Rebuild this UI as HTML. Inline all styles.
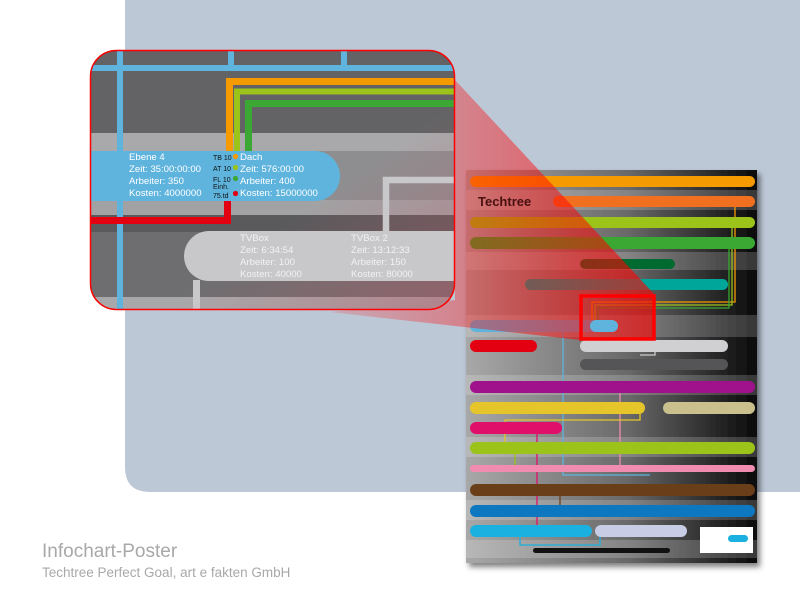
<!DOCTYPE html>
<html><head><meta charset="utf-8"><style>
html,body{margin:0;padding:0;background:#fff;}
svg{display:block;font-family:"Liberation Sans",sans-serif;}
</style></head><body>
<svg width="800" height="600" viewBox="0 0 800 600" xmlns="http://www.w3.org/2000/svg">
<defs>
<linearGradient id="pg" x1="0" x2="1" y1="0" y2="0">
<stop offset="0" stop-color="#a8a8a8"/><stop offset="0.55" stop-color="#6a6a6a"/><stop offset="1" stop-color="#0a0a0a"/>
</linearGradient>
<linearGradient id="ig" x1="0" x2="1" y1="0" y2="1">
<stop offset="0" stop-color="#707072" stop-opacity="0"/><stop offset="0.6" stop-color="#c06070" stop-opacity="0"/><stop offset="1" stop-color="#c05060" stop-opacity="0.45"/>
</linearGradient>
<linearGradient id="rg" x1="1" x2="0" y1="0" y2="0">
<stop offset="0" stop-color="#ff0000" stop-opacity="0.85"/><stop offset="1" stop-color="#ff0000" stop-opacity="0.2"/>
</linearGradient>
<clipPath id="ic"><rect x="90" y="50" width="365" height="260" rx="26"/></clipPath>
<filter id="sh" x="-10%" y="-10%" width="120%" height="120%"><feDropShadow dx="3" dy="4" stdDeviation="3" flood-opacity="0.5"/></filter>
</defs>
<path d="M125 0 H800 V492 H150 Q125 492 125 467 Z" fill="#bdc8d7"/>

<g filter="url(#sh)"><rect x="466" y="170" width="291" height="393" fill="url(#pg)"/></g>
<g opacity="0.18" fill="#ffffff">
<rect x="466" y="190" width="291" height="20"/><rect x="466" y="252" width="291" height="18"/><rect x="466" y="315" width="291" height="22"/>
<rect x="466" y="375" width="291" height="20"/><rect x="466" y="437" width="291" height="20"/><rect x="466" y="500" width="291" height="20"/><rect x="466" y="540" width="291" height="18"/>
</g>
<g stroke-width="1.3" fill="none">
<path d="M563 320 V475 H650" stroke="#5fb4de"/>
<path d="M620 393 V465" stroke="#f08cb0"/>
<path d="M537 434 V530" stroke="#e0106a"/>
<path d="M735 200 V302 H592 V320" stroke="#f59a00"/>
<path d="M732 228 V305 H595 V320" stroke="#9cc31a"/>
<path d="M729 249 V308 H598 V320" stroke="#3aa832"/>
<path d="M640 414 V420 H505 V442" stroke="#e5c52a"/>
<path d="M515 454 V465" stroke="#9cc31a"/>
<path d="M560 496 V505" stroke="#6b3e1a"/>
<path d="M520 537 V545 H600 V537" stroke="#1ab0e0"/>
<path d="M655 340 V355 H640" stroke="#ccc"/>
</g>
<g>
<rect x="470" y="176" width="285" height="11" rx="5.5" fill="#f59a00"/>
<rect x="553" y="196" width="202" height="11" rx="5.5" fill="#f07020"/>
<rect x="470" y="217" width="285" height="11" rx="5.5" fill="#9cc31a"/>
<rect x="470" y="237" width="285" height="12" rx="6" fill="#3aa832"/>
<rect x="580" y="259" width="95" height="10" rx="5" fill="#006a30"/>
<rect x="525" y="279" width="203" height="11" rx="5.5" fill="#00a69a"/>
<rect x="470" y="320" width="148" height="12" rx="6" fill="#5fb4de"/>
<rect x="470" y="340" width="67" height="12" rx="6" fill="#e30010"/>
<rect x="580" y="340" width="148" height="12" rx="6" fill="#d0d0d2"/>
<rect x="580" y="359" width="148" height="11" rx="5.5" fill="#555557"/>
<rect x="470" y="381" width="285" height="12" rx="6" fill="#a0128c"/>
<rect x="470" y="402" width="175" height="12" rx="6" fill="#e5c52a"/>
<rect x="663" y="402" width="92" height="12" rx="6" fill="#c9c08e"/>
<rect x="470" y="422" width="92" height="12" rx="6" fill="#e0106a"/>
<rect x="470" y="442" width="285" height="12" rx="6" fill="#9cc31a"/>
<rect x="470" y="465" width="285" height="7" rx="3.5" fill="#f08cb0"/>
<rect x="470" y="484" width="285" height="12" rx="6" fill="#6b3e1a"/>
<rect x="470" y="505" width="285" height="12" rx="6" fill="#0d78c0"/>
<rect x="470" y="525" width="122" height="12" rx="6" fill="#1ab0e0"/>
<rect x="595" y="525" width="92" height="12" rx="6" fill="#c8cce4"/>
<rect x="533" y="548" width="137" height="5" rx="2.5" fill="#111"/>
<rect x="700" y="527" width="53" height="26" fill="#fff"/>
<rect x="728" y="535" width="20" height="7" rx="3.5" fill="#1ab0e0"/>
</g>
<polygon points="455,80 655,295 655,340 580,340 330,312 455,300" fill="url(#rg)" opacity="0.75"/>
<text x="478" y="206" font-size="13" font-weight="bold" fill="#4a1010">Techtree</text>
<rect x="581" y="296" width="73" height="43" fill="none" stroke="#ff0000" stroke-width="3.5"/>
<rect x="590" y="320" width="28" height="12" rx="6" fill="#5fb4de"/>

<g clip-path="url(#ic)">
<rect x="90" y="50" width="365" height="260" fill="#6c6c6e"/>
<rect x="90" y="50" width="365" height="83" fill="#636365"/>
<rect x="90" y="133" width="365" height="18" fill="#a9a9ab"/>
<rect x="90" y="151" width="365" height="50" fill="#8e8e90"/>
<rect x="90" y="200" width="365" height="15" fill="#a2a2a4"/>
<rect x="90" y="215" width="365" height="17" fill="#5a5a5c"/>
<rect x="90" y="232" width="365" height="65" fill="#6e6e70"/>
<rect x="90" y="297" width="365" height="13" fill="#a8a8aa"/>
<rect x="90" y="50" width="365" height="260" fill="url(#ig)"/>
<rect x="117" y="50" width="6" height="260" fill="#5fb4de"/>
<rect x="228" y="50" width="6" height="20" fill="#5fb4de"/>
<rect x="341" y="50" width="6" height="20" fill="#5fb4de"/>
<rect x="90" y="65" width="365" height="6" fill="#5fb4de"/>
<path d="M229.5 152 V81.5 H455" stroke="#f59a00" stroke-width="7" fill="none"/>
<path d="M237 152 V91.5 H455" stroke="#9cc31a" stroke-width="6" fill="none"/>
<path d="M248.5 152 V103.5 H455" stroke="#3aa832" stroke-width="7" fill="none"/>
<path d="M227.5 200 V220.5 H90" stroke="#e30010" stroke-width="7" fill="none"/>
<path d="M386 232 V180 H455" stroke="#c8c8ca" stroke-width="6.5" fill="none"/>
<rect x="193" y="280" width="7" height="30" fill="#c8c8ca"/>
<path d="M80 151 H315 A25 25 0 0 1 315 201 H80 Z" fill="#5fb4de"/>
<path d="M209 231 H465 V281 H209 A25 25 0 0 1 209 231 Z" fill="#c8c8ca"/>
<rect x="117" y="201" width="6" height="16" fill="#5fb4de"/>
<g font-size="9.6" fill="#fff">
<text x="129" y="160">Ebene 4</text><text x="129" y="172">Zeit: 35:00:00:00</text>
<text x="129" y="184">Arbeiter: 350</text><text x="129" y="196">Kosten: 4000000</text>
<text x="240" y="160">Dach</text><text x="240" y="172">Zeit: 576:00:00</text>
<text x="240" y="184">Arbeiter: 400</text><text x="240" y="196">Kosten: 15000000</text>
</g>
<g font-size="9.6" fill="#f2f2f2">
<text x="240" y="241">TVBox</text><text x="240" y="253">Zeit: 6:34:54</text>
<text x="240" y="265">Arbeiter: 100</text><text x="240" y="277">Kosten: 40000</text>
<text x="351" y="241">TVBox 2</text><text x="351" y="253">Zeit: 13:12:33</text>
<text x="351" y="265">Arbeiter: 150</text><text x="351" y="277">Kosten: 80000</text>
</g>
<g font-size="7" fill="#111">
<text x="213" y="160">TB 10</text><text x="213" y="171">AT 10</text>
<text x="213" y="182">FL 10</text><text x="213" y="189">Einh.</text><text x="213" y="198">75.td</text>
</g>
<circle cx="235.5" cy="156.5" r="2.6" fill="#f59a00"/>
<circle cx="235.5" cy="167.5" r="2.6" fill="#9cc31a"/>
<circle cx="235.5" cy="178.5" r="2.6" fill="#3aa832"/>
<circle cx="235.5" cy="193.5" r="2.6" fill="#e30010"/>
</g>
<rect x="90.5" y="50.5" width="364" height="259" rx="26" fill="none" stroke="#ff0000" stroke-width="1.5"/>

<text x="42" y="557" font-size="19" fill="#a8a8a8">Infochart-Poster</text>
<text x="42" y="577" font-size="13.5" fill="#a8a8a8">Techtree Perfect Goal, art e fakten GmbH</text>
</svg>
</body></html>
